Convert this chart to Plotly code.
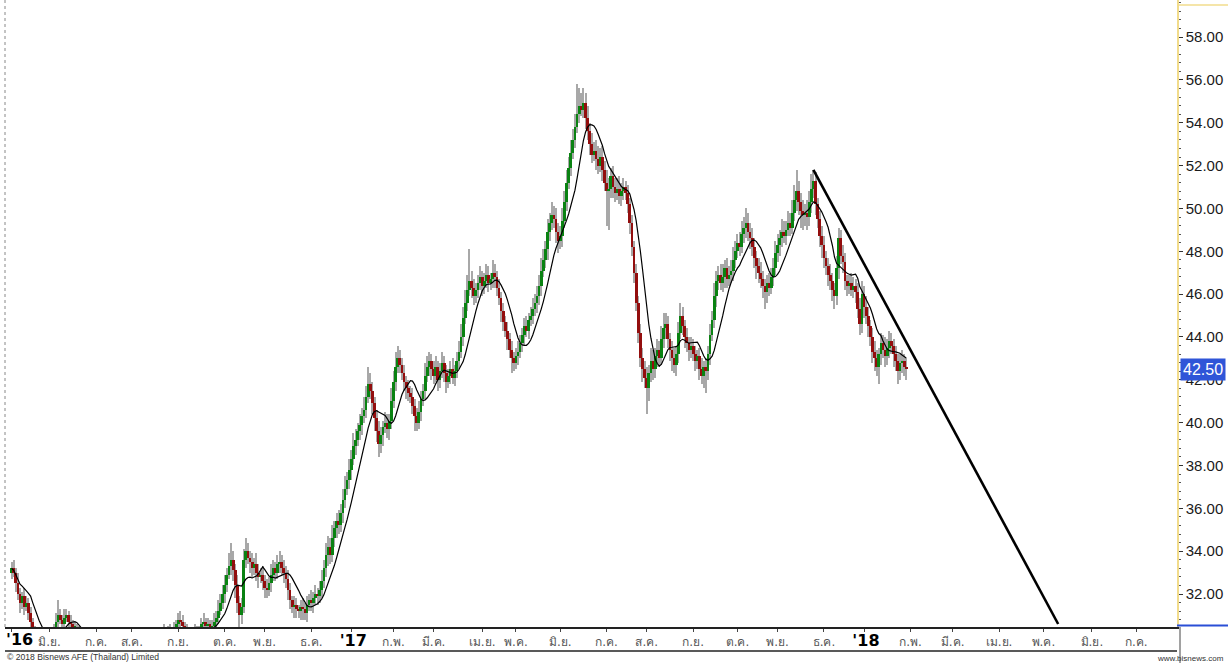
import numpy as np
import pandas as pd
import plotly.graph_objects as go

# ---------------- data ----------------
holidays = ["2016-05-05", "2016-05-06", "2016-05-20", "2016-07-01", "2016-07-18", "2016-07-19",
            "2016-07-20", "2016-08-12", "2016-10-14", "2016-10-24", "2016-12-05", "2016-12-12",
            "2016-12-30", "2017-01-02", "2017-01-03", "2017-02-13", "2017-04-06", "2017-04-13",
            "2017-04-14", "2017-04-17", "2017-05-01", "2017-05-10", "2017-07-10", "2017-07-28",
            "2017-08-14", "2017-10-13", "2017-10-23", "2017-10-26", "2017-12-05", "2017-12-11",
            "2018-01-01"]
hist_start = "2016-05-03"
hist_end = "2018-01-30"
axis_end = "2018-07-31"

first_open = 33.0
close = [
    33.2, 33.0, 32.5, 32.0, 31.6, 31.9, 31.4, 31.6, 31.1, 30.7,
    30.2, 29.9, 29.6, 29.8, 29.5, 29.3, 29.6, 29.8, 29.9, 30.1,
    30.3, 30.7, 31.0, 30.8, 30.6, 30.9, 31.0, 30.7, 30.6, 30.4,
    30.4, 30.2, 29.9, 29.6, 29.4, 29.2, 29.0, 29.3, 29.1, 28.9,
    28.8, 28.6, 28.9, 28.7, 28.5, 28.8, 29.0, 28.7, 28.5, 28.4,
    28.6, 28.8, 28.6, 28.4, 28.7, 28.9, 29.1, 28.8, 29.0, 29.2,
    29.4, 29.2, 29.5, 29.7, 29.5, 29.8, 29.6, 29.9, 30.1, 29.8,
    30.0, 30.2, 29.9, 30.1, 30.3, 30.0, 30.2, 30.4, 30.6, 30.8,
    30.7, 30.5, 30.3, 30.1, 30.0, 29.8, 30.0, 30.2, 30.0, 30.3,
    30.6, 30.7, 30.5, 30.6, 30.4, 30.5, 30.7, 30.9, 31.2, 31.6,
    32.0, 32.4, 32.9, 33.3, 33.6, 33.1, 32.4, 31.6, 31.0, 31.4,
    33.6, 34.0, 33.7, 33.5, 33.2, 33.4, 33.0, 32.8, 32.9, 32.6,
    32.3, 32.2, 32.5, 32.9, 33.2, 33.0, 33.4, 33.5, 33.2, 33.0,
    32.7, 32.2, 31.7, 31.4, 31.5, 31.3, 31.2, 31.4, 31.3, 31.1,
    31.5, 31.7, 31.6, 31.8, 32.0, 31.9, 32.2, 32.6, 33.2, 33.8,
    34.2, 33.8, 34.6, 35.1, 35.4, 35.2, 35.8, 36.4, 36.9, 37.3,
    37.8, 38.3, 38.9, 39.2, 39.6, 39.9, 40.3, 40.6, 41.2, 41.8,
    41.5, 40.9, 40.2, 39.6, 39.0, 39.4, 39.8, 40.0, 39.7, 40.1,
    41.0, 41.9, 42.6, 43.0, 42.7, 42.3, 41.9, 41.6, 41.4, 41.2,
    40.8, 40.3, 40.0, 40.5, 41.1, 41.5, 42.2, 42.6, 42.9, 42.5,
    42.2, 42.6, 42.0, 42.4, 42.8, 42.3, 41.9, 42.2, 42.5, 42.1,
    42.4, 42.9, 43.3, 44.0, 44.9, 45.6, 46.2, 46.6, 46.3, 45.9,
    46.2, 46.5, 46.8, 46.4, 46.6, 46.9, 46.5, 46.7, 47.0, 46.8,
    46.3, 45.8, 45.2, 44.7, 44.3, 43.9, 43.4, 43.0, 42.8, 43.1,
    43.3, 43.7, 44.1, 44.5, 44.3, 44.8, 45.0, 45.3, 45.6, 45.9,
    46.4, 47.1, 47.6, 48.1, 48.9, 49.3, 49.7, 49.5, 48.9, 48.5,
    48.7, 49.4, 50.3, 51.2, 51.9, 52.6, 53.2, 53.8, 54.4, 54.8,
    54.6, 54.9, 54.2, 53.6, 53.0, 52.5, 52.7, 52.3, 52.0, 52.4,
    51.8, 51.2, 50.8, 50.9, 51.5, 51.0, 50.7, 50.9, 50.6, 50.8,
    51.0, 50.7, 50.2, 49.3, 48.2, 47.0, 45.6, 44.2, 43.0, 42.5,
    42.1, 41.6, 42.3, 42.9, 42.5, 43.1, 43.4, 43.0, 43.9, 44.4,
    44.6, 43.9, 43.4, 43.0, 42.7, 43.2, 44.2, 45.0, 44.5, 44.0,
    43.7, 43.4, 43.6, 43.2, 42.9, 43.1, 42.5, 42.2, 42.6, 42.4,
    43.2, 44.1, 44.8, 45.9, 46.6, 46.9, 46.5, 46.8, 47.2, 46.7,
    46.9, 47.1, 47.6, 48.0, 48.4, 48.2, 48.8, 49.1, 49.3, 48.9,
    48.6, 48.2, 47.7, 47.3, 47.0, 46.7, 46.4, 46.1, 46.5, 46.3,
    46.8, 47.2, 47.9, 48.3, 48.6, 48.9, 48.7, 49.0, 49.3, 49.1,
    49.8, 50.4, 50.8, 50.3, 49.9, 49.7, 49.8, 49.6, 50.3, 50.9,
    51.3, 50.2, 49.5, 48.7, 48.3, 47.7, 47.3, 46.9, 46.6, 46.2,
    45.9, 47.2, 48.6, 47.8, 47.5, 46.6, 46.4, 46.5, 46.2, 46.4,
    46.1, 45.3, 44.6, 46.0, 45.4, 45.0, 44.5, 44.0, 43.3, 43.0,
    42.6, 43.2, 43.7, 43.4, 43.1, 43.5, 43.8, 43.6, 43.2, 42.9,
    42.4, 42.8, 42.9, 42.6, 42.5,
]
upper_wick_tenths = [
    3,4,2,5,3,2,4,3,2,3, 2,3,4,2,3,2,3,4,2,3, 3,4,7,3,2,
    4,3,2,3,2, 3,2,3,2,4, 3,2,3,2,3, 2,4,3,2,3, 2,3,2,4,3,
    3,2,4,3,2, 3,2,3,4,2, 3,2,4,3,2, 3,4,2,3,2, 3,2,4,3,2,
    3,2,3,2,3, 4,3,2,3,2, 3,2,4,3,2, 3,4,2,3,2, 3,4,3,5,4,
    4,5,3,6,8,4,3,5,3,4, 5,6,4,3,4, 3,5,4,3,4, 3,4,3,5,4,
    3,4,5,3,4, 3,4,3,2,4, 3,2,3,4,3, 4,3,5,3,4, 3,4,5,4,6,
    5,4,6,3,4, 5,4,5,6,4, 5,4,6,5,4, 5,4,6,5,8, 5,4,3,4,5,
    4,3,5,4,3, 6,5,7,6,4, 3,4,3,4,3, 4,3,4,5,4, 3,6,5,4,3,
    4,5,3,4,5, 3,4,3,4,5, 3,4,5,6,5, 6,7,15,5,4, 3,4,5,3,4,
    5,4,3,6,4, 3,4,3,4,3, 4,3,4,3,4, 5,4,3,4,5, 3,4,5,4,5,
    5,6,5,4,6, 5,6,4,5,4, 5,6,5,6,5, 6,5,6,14,8, 6,7,5,6,4,
    5,4,5,6,4, 5,4,6,5,4, 5,4,5,6,4, 4,3,4,3,4, 3,4,3,4,5,
    4,5,4,6,5, 4,5,4,6,7, 5,4,3,4,5, 4,5,6,4,3, 4,3,4,3,4,
    3,4,5,3,4, 4,5,4,6,5, 4,5,6,4,5, 4,5,6,5,4, 5,6,5,7,5,
    4,5,4,3,4, 5,4,3,4,5, 4,5,6,5,4, 6,5,4,6,5, 6,7,10,5,4,
    5,4,6,5,7, 5,4,3,4,5, 4,3,4,5,4, 3,6,5,4,5, 4,3,4,5,4,
    3,4,5,6,4, 5,4,3,4,5, 4,3,5,4,6, 4,5,4,3,4, 3,4,5,3,4,
]
lower_wick_tenths = [
    3,2,4,3,5,3,4,2,3,4, 3,2,3,4,2,3,2,3,4,2, 3,4,3,2,4,
    3,2,4,3,2, 4,3,2,3,4, 2,3,4,3,2, 3,4,2,3,2, 3,4,3,2,3,
    2,3,4,2,3, 4,3,2,3,4, 2,3,4,3,2, 3,2,4,3,2, 3,4,2,3,2,
    3,4,2,3,2, 3,4,3,2,4, 3,2,3,4,3, 2,3,4,3,2, 3,2,4,3,2,
    3,4,3,2,4, 5,6,5,8,4, 3,4,3,5,4, 3,4,5,3,4, 5,4,3,4,3,
    4,3,4,3,5, 4,5,4,3,5, 4,3,4,5,3, 4,3,4,5,3, 4,3,4,3,4,
    5,4,3,4,5, 4,3,5,4,3, 4,5,3,4,3, 4,5,3,4,3, 4,5,6,5,6,
    4,5,3,4,5, 4,3,4,3,4, 3,4,5,4,3, 4,7,4,3,4, 3,4,3,4,5,
    4,3,5,4,3, 4,5,3,4,3, 4,3,4,3,4, 3,4,3,5,4, 3,4,3,5,4,
    3,4,3,4,5, 4,3,5,4,3, 5,4,7,4,3, 4,3,4,5,3, 4,3,4,3,5,
    4,5,3,4,5, 4,3,4,5,6, 4,5,3,4,3, 4,3,4,3,4, 3,4,5,4,5,
    4,3,5,4,3, 5,4,16,18,4, 5,4,3,4,5, 4,3,4,5,4, 5,4,5,4,6,
    5,12,6,4,5, 4,5,4,3,4, 5,4,5,6,4, 5,4,3,4,5, 4,5,4,3,5,
    4,5,4,6,10, 4,5,3,4,5, 4,3,4,5,4, 3,4,5,4,3, 4,3,4,5,4,
    5,4,5,6,5, 4,6,8,5,4, 3,4,3,4,5, 4,3,4,3,4, 3,4,5,6,8,
    7,5,6,4,5, 4,5,4,5,6, 5,4,5,4,5, 6,4,5,4,5, 4,5,4,3,4,
    5,4,5,4,5, 4,5,4,5,6, 4,8,5,4,5, 4,5,4,6,5, 6,4,5,4,5,
]
ma_period = 10
trend_dates = ["2017-11-24", "2018-05-10"]
trend_prices = [51.8, 30.6]
last_price = 42.50
thai_months = ["ม.ค.", "ก.พ.", "มี.ค.", "เม.ย.", "พ.ค.", "มิ.ย.",
               "ก.ค.", "ส.ค.", "ก.ย.", "ต.ค.", "พ.ย.", "ธ.ค."]
y_ticks = [32, 34, 36, 38, 40, 42, 44, 46, 48, 50, 52, 54, 56, 58]
copyright_text = "© 2018 Bisnews AFE (Thailand) Limited"
site_text = "www.bisnews.com"

# ---------------- build ----------------
hist = pd.bdate_range(hist_start, hist_end, freq="C", holidays=holidays)
future = pd.bdate_range(pd.Timestamp(hist_end) + pd.Timedelta(days=1), axis_end)
dates = hist.append(future)
pos = {d: i for i, d in enumerate(dates)}

c = np.array(close, dtype=float)
n = len(c)
x = np.arange(n)
o = np.r_[first_open, c[:-1]]
hi = np.maximum(o, c) + np.array(upper_wick_tenths[:n]) / 10.0
lo = np.minimum(o, c) - np.array(lower_wick_tenths[:n]) / 10.0
ma = pd.Series(c).rolling(ma_period, min_periods=1).mean()

GREEN = "#0a8212"
RED = "#930e0e"
WICK = "#a8a8a8"

fig = go.Figure()
# wicks (bars in the same layer as bodies so bodies stay on top)
fig.add_trace(go.Bar(x=x, y=hi - lo, base=lo, width=0.48,
                     marker=dict(color=WICK, line_width=0), hoverinfo="skip", showlegend=False))
# bodies
fig.add_trace(go.Bar(x=x, y=np.maximum(np.abs(c - o), 0.1), base=np.minimum(o, c),
                     width=1.3, marker=dict(color=np.where(c >= o, GREEN, RED).tolist(), line_width=0),
                     showlegend=False))
fig.add_trace(go.Scatter(x=x, y=ma, mode="lines", line=dict(color="#000000", width=1.2),
                         showlegend=False))
fig.add_trace(go.Scatter(x=[pos[pd.Timestamp(d)] for d in trend_dates], y=trend_prices,
                         mode="lines", line=dict(color="#000000", width=2.6), showlegend=False))

# month ticks
YEAR_FMT = "<span style='font-size:16px;color:#000'><b>'%02d</b></span>"
tickvals, ticktext = [], []
for i, d in enumerate(dates):
    if i == 0 or d.month != dates[i - 1].month:
        tickvals.append(i)
        if i == 0:
            ticktext.append("")
        elif d.month == 1:
            ticktext.append("\u00a0" + YEAR_FMT % (d.year % 100))
        else:
            ticktext.append(thai_months[d.month - 1])

L, R, T, B = 5, 51, 0, 36
W, H = 1228, 663
pw, ph = W - L - R, H - T - B
px_per_idx = 2.11
x0 = -(11.6 - 5) / px_per_idx
x1 = x0 + pw / px_per_idx

fig.update_layout(
    width=W, height=H, margin=dict(l=L, r=R, t=T, b=B, autoexpand=False),
    paper_bgcolor="white", plot_bgcolor="white", bargap=0, barmode="overlay",
    font=dict(family="Liberation Sans, Arial, sans-serif"),
    xaxis=dict(range=[x0, x1], tickmode="array", tickvals=tickvals, ticktext=ticktext,
               ticks="outside", ticklen=3, tickcolor="#444", showgrid=False, zeroline=False,
               showline=True, linecolor="#222", linewidth=1.6, automargin=False,
               tickfont=dict(size=12, color="#555", family="Tahoma, DejaVu Sans, sans-serif")),
    yaxis=dict(side="right", range=[30.46, 59.73], tickmode="array", tickvals=y_ticks,
               ticktext=["%.2f" % v for v in y_ticks], showgrid=False, zeroline=False,
               showline=True, linecolor="#f2dc8c", linewidth=1.5, ticks="outside", ticklen=4,
               tickcolor="#333", minor=dict(ticks="outside", ticklen=2, dtick=0.4, tickcolor="#555"),
               automargin=False,
               tickfont=dict(size=15, color="#1a1a1a", family="Liberation Sans, Arial")),
)

# first year label of the date band (start of the data)
fig.add_annotation(xref="paper", yref="paper", x=0, y=-12 / ph, xanchor="left", yanchor="middle",
                   xshift=-1, text=YEAR_FMT % (dates[0].year % 100), showarrow=False,
                   font=dict(family="Tahoma, DejaVu Sans, sans-serif"))

# bottom border of the date band
fig.add_shape(type="line", xref="paper", yref="paper", x0=0, x1=1, y0=-24 / ph, y1=-24 / ph,
              line=dict(color="#222", width=1.5))
# left dotted border
fig.add_shape(type="line", xref="paper", yref="paper", x0=0, x1=0, y0=0, y1=1,
              line=dict(color="#888", width=1, dash="dot"))
# blue marker line on the price scale bottom
fig.add_shape(type="line", xref="paper", yref="paper", x0=1, x1=1 + R / pw, y0=1.5 / ph, y1=1.5 / ph,
              line=dict(color="#2a4fd6", width=2))
# top yellow line on the scale
fig.add_shape(type="line", xref="paper", yref="paper", x0=1, x1=1 + R / pw, y0=1 - 5 / ph, y1=1 - 5 / ph,
              line=dict(color="#f2dc8c", width=1.5))
# separator below the price scale
fig.add_shape(type="line", xref="paper", yref="paper", x0=1 + 3 / pw, x1=1 + 3 / pw, y0=0, y1=-36 / ph,
              line=dict(color="#444", width=1))

fig.add_annotation(xref="paper", yref="y", x=1, y=last_price, xanchor="left", xshift=3,
                   text="%.2f" % last_price, showarrow=False, bgcolor="#2f55d8",
                   font=dict(color="white", size=16, family="Liberation Sans, Arial"), borderpad=2)
fig.add_annotation(xref="paper", yref="paper", x=0, y=-30 / ph, xanchor="left", yanchor="middle",
                   text=copyright_text, showarrow=False,
                   font=dict(size=8.6, color="#333", family="Liberation Sans, Arial"))
fig.add_annotation(xref="paper", yref="paper", x=1 + (R - 2) / pw, y=-31 / ph, xanchor="right",
                   yanchor="middle", text=site_text, showarrow=False,
                   font=dict(size=8, color="#333", family="Liberation Sans, Arial"))

fig.write_html("out.html", config={"displayModeBar": False},
               post_script="document.body.style.margin='0';")
